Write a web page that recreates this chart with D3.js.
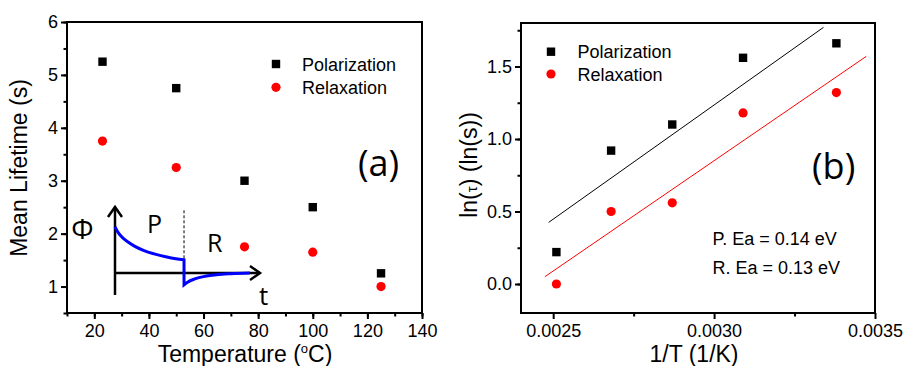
<!DOCTYPE html>
<html>
<head>
<meta charset="utf-8">
<script src="https://cdn.jsdelivr.net/npm/d3@7"></script>
<style>
  body { margin: 0; background: #fff; }
  svg { display: block; font-family: "Liberation Sans", Arial, sans-serif; }
  .axis path, .axis line { stroke: #000; }
  .axis text { font-size: 18px; fill: #000; }
</style>
</head>
<body>
<svg id="chart" width="904" height="366"></svg>
<script>
// ---- data, panel (a): mean lifetime vs temperature
const temps = [23, 50, 75, 100, 125];
const polLifetime = [5.25, 4.75, 3.0, 2.5, 1.25];
const relLifetime = [3.75, 3.25, 1.75, 1.65, 1.0];
const tempTicks = [20, 40, 60, 80, 100, 120, 140];
const lifeTicks = [1, 2, 3, 4, 5, 6];

// ---- data, panel (b): Arrhenius plot
const invT = [0.00251, 0.00268, 0.00287, 0.00309, 0.00338];
const polLn = [0.22, 0.92, 1.10, 1.56, 1.66];
const relLn = [0.00, 0.50, 0.56, 1.18, 1.32];
const fitPol = [[0.002486, 0.425], [0.00334, 1.77]];
const fitRel = [[0.002474, 0.05], [0.003473, 1.57]];
const invTTicks = [0.0025, 0.0030, 0.0035];
const lnTicks = [0.0, 0.5, 1.0, 1.5];
const energyLabels = ["P. Ea = 0.14 eV", "R. Ea = 0.13 eV"];

// ---- inset schematic (normalized units: x along t, y along Φ)
const pulseP = [
  [0.0, 0.70], [0.02, 0.62], [0.05, 0.54], [0.09, 0.47], [0.14, 0.40],
  [0.20, 0.34], [0.27, 0.29], [0.35, 0.245], [0.42, 0.215], [0.476, 0.20]
];
const pulseR = [
  [0.476, -0.18], [0.50, -0.14], [0.55, -0.09], [0.62, -0.05],
  [0.70, -0.025], [0.80, -0.01], [0.93, 0.0]
];
const switchT = 0.476;

const svg = d3.select("#chart");

function makePanel(cfg) {
  const g = svg.append("g");
  const x = d3.scaleLinear().domain(cfg.xDomain).range([cfg.left, cfg.right]);
  const y = d3.scaleLinear().domain(cfg.yDomain).range([cfg.bottom, cfg.top]);

  // minor ticks
  g.append("g").attr("class", "axis")
    .attr("transform", `translate(0,${cfg.bottom})`)
    .call(d3.axisBottom(x).tickValues(cfg.xMinor).tickSize(3.5).tickFormat(""))
    .call(a => a.select(".domain").remove())
    .selectAll("line").attr("stroke-width", 2);
  g.append("g").attr("class", "axis")
    .attr("transform", `translate(${cfg.left},0)`)
    .call(d3.axisLeft(y).tickValues(cfg.yMinor).tickSize(3.5).tickFormat(""))
    .call(a => a.select(".domain").remove())
    .selectAll("line").attr("stroke-width", 2);

  // major ticks
  const xa = g.append("g").attr("class", "axis")
    .attr("transform", `translate(0,${cfg.bottom})`)
    .call(d3.axisBottom(x).tickValues(cfg.xTicks).tickSize(6).tickPadding(5)
      .tickFormat(cfg.xFormat));
  xa.select(".domain").remove();
  xa.selectAll("line").attr("stroke-width", 2);
  const ya = g.append("g").attr("class", "axis")
    .attr("transform", `translate(${cfg.left},0)`)
    .call(d3.axisLeft(y).tickValues(cfg.yTicks).tickSize(6).tickPadding(3)
      .tickFormat(cfg.yFormat));
  ya.select(".domain").remove();
  ya.selectAll("line").attr("stroke-width", 2);

  // frame
  g.append("rect")
    .attr("x", cfg.left).attr("y", cfg.top)
    .attr("width", cfg.right - cfg.left).attr("height", cfg.bottom - cfg.top)
    .attr("fill", "none").attr("stroke", "#000").attr("stroke-width", 2);

  return { g, x, y };
}

function drawSeries(p, xs, ys, kind, color) {
  const pts = xs.map((v, i) => [v, ys[i]]);
  if (kind === "square") {
    p.g.selectAll(null).data(pts).join("rect")
      .attr("x", d => p.x(d[0]) - 4.2).attr("y", d => p.y(d[1]) - 4.2)
      .attr("width", 8.4).attr("height", 8.4).attr("fill", color);
  } else {
    p.g.selectAll(null).data(pts).join("circle")
      .attr("cx", d => p.x(d[0])).attr("cy", d => p.y(d[1]))
      .attr("r", 4.6).attr("fill", color);
  }
}

function drawLegend(g, sx, tx, y0, y1) {
  g.append("rect").attr("x", sx - 4.2).attr("y", y0 - 4.2)
    .attr("width", 8.4).attr("height", 8.4).attr("fill", "#000");
  g.append("circle").attr("cx", sx).attr("cy", y1).attr("r", 4.6).attr("fill", "#f00");
  g.append("text").attr("x", tx).attr("y", y0 + 6.5).attr("font-size", 18).text("Polarization");
  g.append("text").attr("x", tx).attr("y", y1 + 6.5).attr("font-size", 18).text("Relaxation");
}

// ================= panel (a)
const pa = makePanel({
  left: 67, right: 422, top: 22, bottom: 313,
  xDomain: [10, 140], yDomain: [0.5, 6],
  xTicks: tempTicks, xMinor: d3.range(10, 141, 10),
  yTicks: lifeTicks, yMinor: d3.range(0.5, 6.01, 0.5),
  xFormat: d3.format("d"), yFormat: d3.format("d")
});
drawSeries(pa, temps, polLifetime, "square", "#000");
drawSeries(pa, temps, relLifetime, "circle", "#f00");
drawLegend(pa.g, 276, 302, 64, 87.3);

pa.g.append("text").attr("x", 358).attr("y", 176)
  .attr("font-family", "'Open Sans', sans-serif").attr("font-size", 36).text("(a)");

pa.g.append("text")
  .attr("transform", "translate(27,168) rotate(-90)")
  .attr("text-anchor", "middle").attr("font-size", 23).text("Mean Lifetime (s)");

const tTitle = pa.g.append("text").attr("x", 245).attr("y", 362)
  .attr("text-anchor", "middle").attr("font-size", 23);
tTitle.append("tspan").text("Temperature (");
tTitle.append("tspan").attr("font-size", 13).attr("dy", -9).text("o");
tTitle.append("tspan").attr("dy", 9).text("C)");

// inset schematic
const ix = d3.scaleLinear().domain([0, 1]).range([115, 260]);
const iy = d3.scaleLinear().domain([0, 1]).range([273, 207]);
const inset = pa.g.append("g").attr("font-family", "'Open Sans', sans-serif");
inset.append("line").attr("x1", ix(0)).attr("x2", ix(0))
  .attr("y1", 295).attr("y2", iy(1))
  .attr("stroke", "#000").attr("stroke-width", 2.5);
inset.append("path")
  .attr("d", `M${ix(0) - 7},${iy(1) + 10} L${ix(0)},${iy(1)} L${ix(0) + 7},${iy(1) + 10}`)
  .attr("fill", "none").attr("stroke", "#000").attr("stroke-width", 2.5);
inset.append("line").attr("x1", ix(0)).attr("x2", ix(1))
  .attr("y1", iy(0)).attr("y2", iy(0))
  .attr("stroke", "#000").attr("stroke-width", 2.5);
inset.append("path")
  .attr("d", `M${ix(1) - 10},${iy(0) - 7} L${ix(1)},${iy(0)} L${ix(1) - 10},${iy(0) + 7}`)
  .attr("fill", "none").attr("stroke", "#000").attr("stroke-width", 2.5);
inset.append("line").attr("x1", ix(switchT)).attr("x2", ix(switchT))
  .attr("y1", iy(0.95)).attr("y2", iy(0.20))
  .attr("stroke", "#000").attr("stroke-width", 1).attr("stroke-dasharray", "3,2");
const smooth = d3.line().x(d => ix(d[0])).y(d => iy(d[1])).curve(d3.curveMonotoneX);
inset.append("path")
  .attr("d", smooth(pulseP) + "L" + smooth(pulseR).slice(1))
  .attr("fill", "none").attr("stroke", "#0000ff").attr("stroke-width", 3);
inset.append("text").attr("x", 82.5).attr("y", 239).attr("text-anchor", "middle")
  .attr("font-size", 28).text("Φ");
inset.append("text").attr("x", 147).attr("y", 233).attr("font-size", 25).text("P");
inset.append("text").attr("x", 207).attr("y", 252).attr("font-size", 25).text("R");
inset.append("text").attr("x", 259).attr("y", 305).attr("font-size", 26).text("t");

// ================= panel (b)
const pb = makePanel({
  left: 521, right: 875, top: 23, bottom: 313,
  xDomain: [0.0024, 0.0035], yDomain: [-0.2, 1.8],
  xTicks: invTTicks, xMinor: [0.00275, 0.00325],
  yTicks: lnTicks, yMinor: d3.range(-0.25, 1.8, 0.25).filter(v => v > -0.2),
  xFormat: d3.format(".4f"), yFormat: d3.format(".1f")
});
const fitLine = d3.line().x(d => pb.x(d[0])).y(d => pb.y(d[1]));
pb.g.append("path").attr("d", fitLine(fitPol)).attr("stroke", "#000")
  .attr("stroke-width", 1).attr("fill", "none");
pb.g.append("path").attr("d", fitLine(fitRel)).attr("stroke", "#f00")
  .attr("stroke-width", 1).attr("fill", "none");
drawSeries(pb, invT, polLn, "square", "#000");
drawSeries(pb, invT, relLn, "circle", "#f00");
drawLegend(pb.g, 551, 577.5, 51.7, 74);

pb.g.append("text").attr("x", 812).attr("y", 179)
  .attr("font-family", "'Open Sans', sans-serif").attr("font-size", 36).text("(b)");

pb.g.selectAll(null).data(energyLabels).join("text")
  .attr("x", 712.5).attr("y", (d, i) => 245 + i * 28.5)
  .attr("font-size", 18).text(d => d);

const lnTitle = pb.g.append("text")
  .attr("transform", "translate(477,165) rotate(-90)")
  .attr("text-anchor", "middle").attr("font-size", 23);
lnTitle.append("tspan").text("ln(");
lnTitle.append("tspan").attr("font-size", 15).text("τ");
lnTitle.append("tspan").text(") (ln(s))");

pb.g.append("text").attr("x", 694).attr("y", 362)
  .attr("text-anchor", "middle").attr("font-size", 23).text("1/T (1/K)");
</script>
</body>
</html>
